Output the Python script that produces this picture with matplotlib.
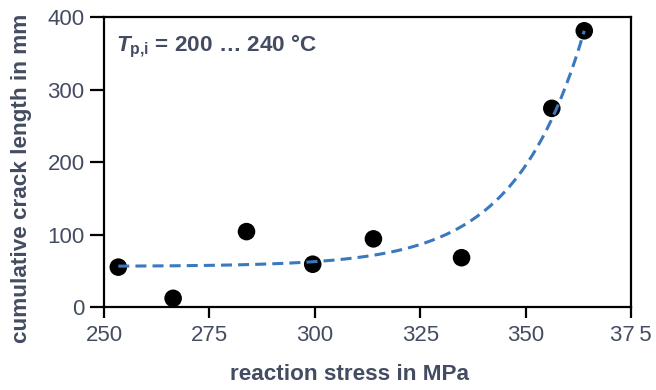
import numpy as np
import matplotlib
matplotlib.use("Agg")
import matplotlib.pyplot as plt

# ── Data ──────────────────────────────────────────────────────────────────────
stress_mpa = [253.4, 266.4, 283.8, 299.5, 313.9, 334.8, 356.2, 363.9]
crack_mm = [55, 12, 104, 59, 94, 68, 274, 381]

# exponential trend line  y = A + B * exp(C * (x - X0))
FIT_A, FIT_B, FIT_C, FIT_X0 = 56.0, 325.0, 0.061, 363.9

x_ticks = [250, 275, 300, 325, 350, 375]
x_tick_labels = ["250", "275", "300", "325", "350", "37\u20095"]
y_ticks = [0, 100, 200, 300, 400]

TEXT = "#444c62"
LINE = "#3a78c0"

plt.rcParams["font.family"] = ["Liberation Sans", "DejaVu Sans"]
plt.rcParams["mathtext.fontset"] = "custom"
plt.rcParams["mathtext.it"] = "Liberation Sans:italic:bold"
plt.rcParams["mathtext.rm"] = "Liberation Sans:bold"

fig = plt.figure(figsize=(6.56, 3.90), dpi=100)
ax = fig.add_axes([0.1585, 0.2128, 0.8035, 0.7436])

# ── Trend line ────────────────────────────────────────────────────────────────
xf = np.linspace(min(stress_mpa), max(stress_mpa), 200)
yf = FIT_A + FIT_B * np.exp(FIT_C * (xf - FIT_X0))
ax.plot(xf, yf, color=LINE, lw=2.2, ls=(0, (3.6, 2.0)), zorder=3)

# ── Measurements ──────────────────────────────────────────────────────────────
ax.scatter(stress_mpa, crack_mm, s=160, color="black", zorder=2, edgecolors="none")

ax.set_xlim(250, 375)
ax.set_ylim(0, 400)
ax.set_xticks(x_ticks)
ax.set_xticklabels(x_tick_labels)
ax.set_yticks(y_ticks)

for sp in ax.spines.values():
    sp.set_linewidth(1.6)
    sp.set_color("black")

ax.tick_params(axis="both", direction="out", width=1.6, colors="black",
               labelcolor=TEXT, labelsize=16)
ax.tick_params(axis="x", length=8, pad=5)
ax.tick_params(axis="y", length=10, pad=4)

ax.set_xlabel("reaction stress in MPa", fontsize=16.2, fontweight="bold",
              color=TEXT)
ax.set_ylabel("cumulative crack length in mm", fontsize=16.2, fontweight="bold",
              color=TEXT)
ax.xaxis.set_label_coords(0.466, -0.197)
ax.yaxis.set_label_coords(-0.137, 0.445)

ax.text(0.022, 0.9, r"$\mathit{T}_{\mathrm{p{,}i}}$ = 200 … 240 °C",
        transform=ax.transAxes, fontsize=16.2, fontweight="bold", color=TEXT,
        va="center", ha="left")

fig.savefig("out.png", dpi=100)
